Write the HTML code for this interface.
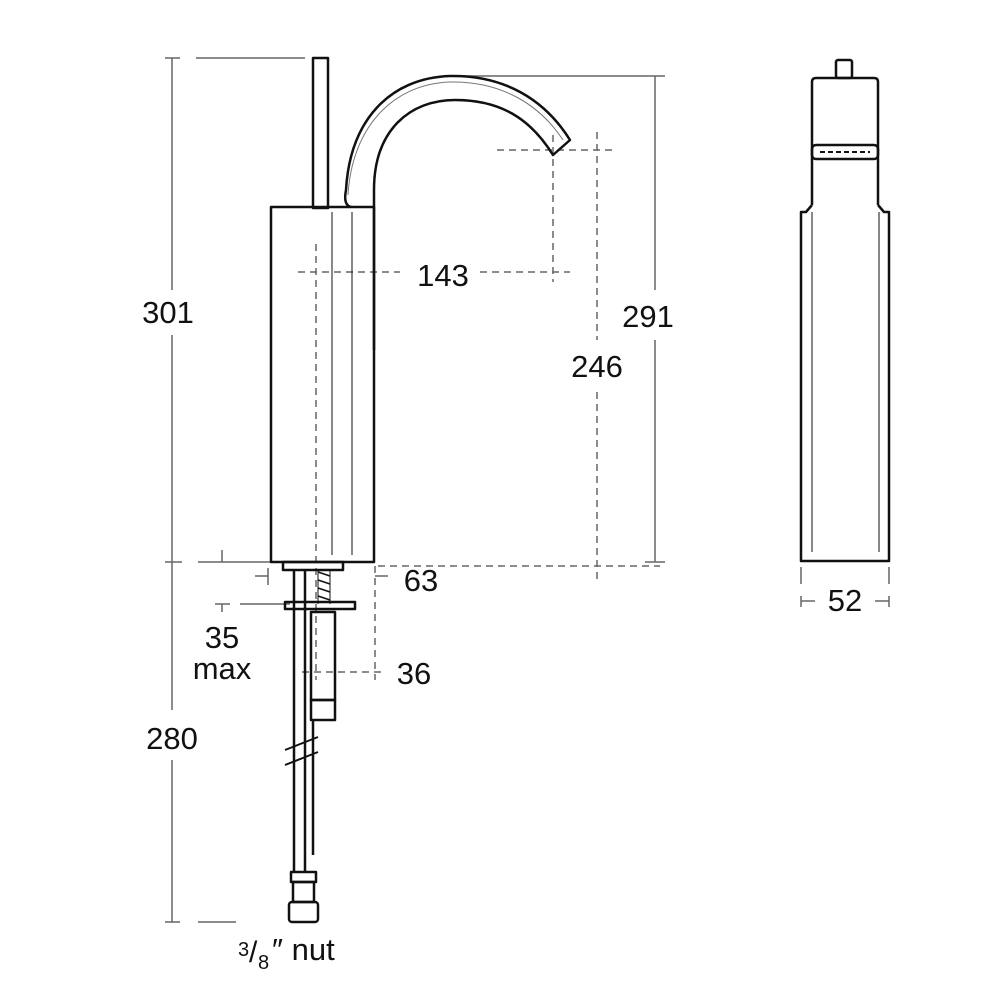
<!DOCTYPE html>
<html><head><style>html,body{margin:0;padding:0;background:#fff}svg{display:block}</style></head>
<body>
<svg width="1000" height="1000" viewBox="0 0 1000 1000" xmlns="http://www.w3.org/2000/svg" font-family="Liberation Sans, sans-serif">
<g fill="none" stroke="#666" stroke-width="1.5">
<line x1="172" y1="58" x2="172" y2="290"/>
<line x1="172" y1="335" x2="172" y2="710"/>
<line x1="172" y1="760" x2="172" y2="922"/>
<line x1="165" y1="58" x2="180" y2="58"/><line x1="196" y1="58" x2="305" y2="58"/>
<line x1="165" y1="562" x2="182" y2="562"/><line x1="198" y1="562" x2="270" y2="562"/>
<line x1="222" y1="550" x2="222" y2="562"/>
<line x1="165" y1="922" x2="180" y2="922"/><line x1="198" y1="922" x2="236" y2="922"/>
<line x1="655" y1="76" x2="655" y2="290"/><line x1="655" y1="340" x2="655" y2="562"/>
<line x1="452" y1="76" x2="665" y2="76"/><line x1="645" y1="562" x2="665" y2="562"/>
<line x1="268" y1="568" x2="268" y2="585"/><line x1="255" y1="576" x2="268" y2="576"/>
<line x1="375" y1="576" x2="388" y2="576"/>
<line x1="215" y1="604" x2="230" y2="604"/><line x1="240" y1="604" x2="290" y2="604"/>
<line x1="222" y1="604" x2="222" y2="612"/>
<line x1="801" y1="567" x2="801" y2="584"/><line x1="889" y1="567" x2="889" y2="584"/>
<line x1="801" y1="596" x2="801" y2="607"/><line x1="889" y1="596" x2="889" y2="607"/>
<line x1="801" y1="601" x2="815" y2="601"/><line x1="875" y1="601" x2="889" y2="601"/>
</g>
<g fill="none" stroke="#666" stroke-width="1.5" stroke-dasharray="7,5">
<line x1="597" y1="132" x2="597" y2="340"/><line x1="597" y1="392" x2="597" y2="582"/>
<line x1="497" y1="150" x2="612" y2="150"/>
<line x1="553" y1="135" x2="553" y2="282"/>
<line x1="298" y1="272" x2="400" y2="272"/><line x1="480" y1="272" x2="570" y2="272"/>
<line x1="316" y1="244" x2="316" y2="680"/>
<line x1="378" y1="566" x2="660" y2="566"/>
<line x1="375" y1="566" x2="375" y2="680"/>
<line x1="302" y1="672" x2="385" y2="672"/>
</g>
<g fill="none" stroke="#111" stroke-width="2.5" stroke-linejoin="round">
<rect x="313" y="58" width="15" height="150"/>
<rect x="271" y="207" width="103" height="355"/>
<path d="M351 207 Q343 205 346 190 C350 120 390 78 450 76 C505 75 545 100 570 140 L553 155 C530 118 500 100 455 100 C410 100 374 130 374 190 L374 350"/>
<path d="M348 195 C352 128 392 84 450 82 C502 81 540 105 563 140" stroke-width="1" stroke="#777"/>
<rect x="283" y="562" width="60" height="8"/>
<rect x="285" y="602" width="70" height="7"/>
<line x1="294" y1="570" x2="294" y2="872"/><line x1="305" y1="570" x2="305" y2="872"/>
<rect x="311" y="612" width="24" height="88"/>
<rect x="311" y="700" width="24" height="20"/>
<line x1="313" y1="720" x2="313" y2="855"/>
<path d="M285 750 L318 737 M285 765 L318 752" stroke-width="2"/>
<rect x="291" y="872" width="25" height="10"/>
<rect x="293" y="882" width="21" height="20"/>
<rect x="289" y="902" width="29" height="20" rx="3"/>
<rect x="836" y="60" width="16" height="18" rx="2"/>
<path d="M812 205 L812 82 Q812 78 816 78 L874 78 Q878 78 878 82 L878 205"/>
<rect x="812" y="145" width="66" height="14" rx="4"/>
<path d="M812 205 L806 212 L801 212 L801 561 L889 561 L889 212 L884 212 L878 205"/>
</g>
<g stroke="#111" stroke-width="1" fill="none">
<path d="M318 572 L330 576 M318 580 L330 584 M318 588 L330 592 M318 596 L330 600" stroke-width="1.5"/>
<line x1="318" y1="570" x2="318" y2="604"/><line x1="330" y1="570" x2="330" y2="604"/>
<line x1="332" y1="212" x2="332" y2="555"/><line x1="352" y1="212" x2="352" y2="555"/>
<line x1="812" y1="212" x2="812" y2="552"/><line x1="879" y1="212" x2="879" y2="552"/>
<path d="M820 152 h50" stroke-dasharray="5,3" stroke-width="2"/>
</g>
<g fill="#111" font-size="31">
<text x="168" y="323" text-anchor="middle">301</text>
<text x="172" y="749" text-anchor="middle">280</text>
<text x="443" y="286" text-anchor="middle">143</text>
<text x="648" y="327" text-anchor="middle">291</text>
<text x="597" y="377" text-anchor="middle">246</text>
<text x="421" y="591" text-anchor="middle">63</text>
<text x="414" y="684" text-anchor="middle">36</text>
<text x="222" y="648" text-anchor="middle">35</text>
<text x="222" y="679" text-anchor="middle">max</text>
<text x="845" y="611" text-anchor="middle">52</text>
<text x="238" y="956" font-size="20">3</text>
<text x="249" y="962" font-size="30">/</text>
<text x="258" y="969" font-size="20">8</text>
<text x="272" y="960" font-size="31">″ nut</text>
</g>
</svg>
</body></html>
